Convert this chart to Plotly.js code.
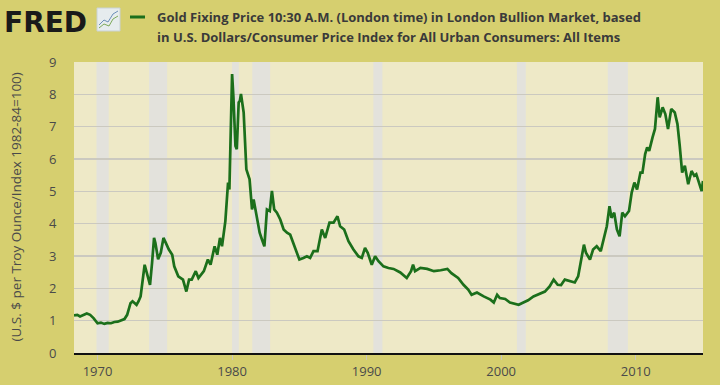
<!DOCTYPE html>
<html>
<head>
<meta charset="utf-8">
<script src="https://cdn.plot.ly/plotly-3.0.1.min.js"></script>
<style>html,body{margin:0;padding:0;background:#D6CF6F;}#chart{width:720px;height:385px;}</style>
</head>
<body>
<div id="chart"></div>
<script>
// Decimal year of each observation
var years = [
1968.25,1968.5,1968.7,1968.9,1969.2,1969.45,1969.7,1970.0,1970.25,1970.5,1970.75,1971.0,1971.25,1971.5,1971.75,
1972.0,1972.2,1972.45,1972.6,1972.9,1973.05,1973.2,1973.5,1973.7,1973.9,1974.05,1974.2,1974.3,1974.4,1974.5,1974.7,1974.9,
1975.05,1975.3,1975.55,1975.7,1976.0,1976.35,1976.6,1976.8,1977.0,1977.3,1977.5,1977.9,1978.2,1978.4,1978.7,1978.9,
1979.1,1979.25,1979.5,1979.7,1979.8,1980.0,1980.1,1980.25,1980.35,1980.49,1980.58,1980.66,1980.86,1981.06,1981.3,1981.48,
1981.6,1981.8,1982.05,1982.22,1982.4,1982.59,1982.8,1982.96,1983.13,1983.33,1983.58,1983.83,1984.08,1984.32,1984.7,
1985.0,1985.3,1985.56,1985.8,1986.05,1986.35,1986.67,1986.92,1987.24,1987.54,1987.83,1988.03,1988.33,1988.65,1989.02,
1989.39,1989.64,1989.88,1990.08,1990.38,1990.63,1990.88,1991.25,1991.62,1992.0,1992.5,1992.98,1993.3,1993.45,1993.6,
1994.0,1994.5,1995.0,1995.5,1996.0,1996.3,1996.8,1997.2,1997.55,1997.8,1998.2,1998.7,1999.2,1999.45,1999.7,1999.9,
2000.3,2000.65,2001.0,2001.3,2001.65,2002.0,2002.4,2002.9,2003.25,2003.6,2003.9,2004.2,2004.45,2004.73,2005.1,2005.47,
2005.72,2005.9,2006.15,2006.3,2006.6,2006.83,2007.1,2007.4,2007.6,2007.85,2008.05,2008.2,2008.4,2008.6,2008.8,2009.0,
2009.2,2009.5,2009.7,2009.9,2010.1,2010.35,2010.5,2010.7,2010.85,2011.0,2011.25,2011.43,2011.63,2011.78,2012.0,2012.2,
2012.4,2012.64,2012.9,2013.1,2013.27,2013.45,2013.65,2013.9,2014.15,2014.35,2014.5,2014.7,2014.9,2015.0
];
// Gold price / CPI
var ratio = [
1.16,1.18,1.13,1.17,1.22,1.18,1.08,0.92,0.94,0.90,0.93,0.92,0.96,0.97,1.00,
1.05,1.18,1.54,1.60,1.49,1.60,1.75,2.73,2.37,2.11,2.78,3.56,3.40,3.15,2.90,3.10,3.56,
3.43,3.20,3.04,2.68,2.37,2.27,1.90,2.27,2.27,2.53,2.32,2.53,2.89,2.73,3.30,3.04,
3.56,3.30,4.08,5.27,5.06,8.63,7.90,6.40,6.30,7.75,7.80,8.01,7.44,5.68,5.37,4.44,
4.75,4.34,3.72,3.51,3.30,4.44,4.39,5.01,4.44,4.34,4.13,3.82,3.72,3.66,3.20,
2.89,2.94,2.99,2.94,3.15,3.15,3.82,3.56,4.03,4.03,4.23,3.92,3.82,3.46,3.20,
2.99,2.94,3.25,3.10,2.73,2.99,2.84,2.68,2.63,2.60,2.49,2.32,2.53,2.73,2.53,
2.63,2.60,2.53,2.56,2.60,2.47,2.32,2.11,1.96,1.80,1.87,1.75,1.65,1.56,1.80,1.70,
1.67,1.56,1.52,1.49,1.56,1.63,1.75,1.85,1.90,2.06,2.27,2.11,2.10,2.27,2.22,2.18,
2.37,2.78,3.35,3.10,2.89,3.20,3.30,3.15,3.51,3.92,4.54,4.18,4.34,3.82,3.61,4.34,
4.23,4.39,4.96,5.27,5.06,5.58,5.58,6.15,6.36,6.25,6.67,6.93,7.91,7.29,7.60,7.39,
6.93,7.55,7.44,7.08,6.41,5.58,5.79,5.22,5.63,5.48,5.53,5.27,5.01,5.32
];
// Recession periods
var recessionStart = [1969.92, 1973.83, 1980.0, 1981.5, 1990.5, 2001.17, 2007.92];
var recessionEnd   = [1970.83, 1975.17, 1980.5, 1982.83, 1991.17, 2001.83, 2009.42];
var tickYears = [1970, 1980, 1990, 2000, 2010];
var tickLabels = ['1970', '1980', '1990', '2000', '2010'];
var seriesTitle1 = 'Gold Fixing Price 10:30 A.M. (London time) in London Bullion Market, based';
var seriesTitle2 = 'in U.S. Dollars/Consumer Price Index for All Urban Consumers: All Items';
var yTitle = '(U.S. $ per Troy Ounce/Index 1982-84=100)';

var W = 720, H = 385, mL = 74, mR = 17, mT = 62, mB = 32;
var pw = W - mL - mR, ph = H - mT - mB;
function px(x) { return (x - mL) / pw; }
function py(y) { return (H - mB - y) / ph; }

var shapes = [];
for (var i = 0; i < recessionStart.length; i++) {
  shapes.push({type: 'rect', xref: 'x', yref: 'paper', x0: recessionStart[i], x1: recessionEnd[i], y0: 0, y1: 1,
    fillcolor: '#E3E2DC', line: {width: 0}, layer: 'below'});
}
// legend swatch
shapes.push({type: 'line', xref: 'paper', yref: 'paper', x0: px(130), x1: px(145), y0: py(17), y1: py(17),
  line: {color: '#1B6F1B', width: 3}});
// FRED icon
shapes.push({type: 'rect', xref: 'paper', yref: 'paper', x0: px(97), x1: px(120), y0: py(31), y1: py(8),
  fillcolor: '#E6ECEE', line: {color: '#C9D2D6', width: 1}});
shapes.push({type: 'path', xref: 'paper', yref: 'paper',
  path: 'M' + px(99) + ',' + py(25) + ' L' + px(104) + ',' + py(20) + ' L' + px(108) + ',' + py(22) + ' L' + px(113) + ',' + py(14) + ' L' + px(118) + ',' + py(11),
  line: {color: '#6C8FB8', width: 1}});
shapes.push({type: 'path', xref: 'paper', yref: 'paper',
  path: 'M' + px(99) + ',' + py(28) + ' L' + px(104) + ',' + py(24) + ' L' + px(109) + ',' + py(26) + ' L' + px(113) + ',' + py(19) + ' L' + px(118) + ',' + py(16),
  line: {color: '#7DAA5A', width: 1}});

var trace = {
  x: years, y: ratio, type: 'scatter', mode: 'lines',
  line: {color: '#1B6F1B', width: 2.7}, hoverinfo: 'x+y'
};

var layout = {
  width: W, height: H,
  margin: {l: mL, r: mR, t: mT, b: mB, pad: 0},
  paper_bgcolor: '#D6CF6F', plot_bgcolor: '#EEE9C7',
  showlegend: false,
  font: {family: 'Open Sans, Liberation Sans, sans-serif', color: '#4a4a4a'},
  xaxis: {
    type: 'linear', range: [1968.25, 2015.0],
    tickvals: tickYears, ticktext: tickLabels,
    ticks: 'outside', ticklen: 5, tickcolor: '#C9C7BD', tickwidth: 1,
    showgrid: false, zeroline: false,
    showline: true, linecolor: '#111', linewidth: 2,
    tickfont: {size: 13, color: '#4a4a4a'}
  },
  yaxis: {
    range: [0, 9], dtick: 1, tick0: 0,
    ticks: 'outside', ticklen: 14, tickcolor: 'rgba(0,0,0,0)',
    showgrid: true, gridcolor: '#CBC9C0', gridwidth: 1.2,
    zeroline: false, showline: false,
    tickfont: {size: 13, color: '#4a4a4a'}
  },
  shapes: shapes,
  annotations: [
    {xref: 'paper', yref: 'paper', x: px(2), y: py(4), xanchor: 'left', yanchor: 'top', showarrow: false,
      text: '<b>FRED</b>', font: {family: 'DejaVu Sans, sans-serif', size: 28, color: '#1a1a1a'}},
    {xref: 'paper', yref: 'paper', x: px(155), y: py(17), xanchor: 'left', yanchor: 'middle', showarrow: false,
      text: '<b>' + seriesTitle1 + '</b>', font: {size: 13, color: '#3a3a3a'}},
    {xref: 'paper', yref: 'paper', x: px(155), y: py(37), xanchor: 'left', yanchor: 'middle', showarrow: false,
      text: '<b>' + seriesTitle2 + '</b>', font: {size: 13, color: '#3a3a3a'}},
    {xref: 'paper', yref: 'paper', x: px(15), y: 0.5, xanchor: 'center', yanchor: 'middle', showarrow: false,
      textangle: -90, text: yTitle, font: {size: 13.5, color: '#4a4a4a'}}
  ]
};

Plotly.newPlot('chart', [trace], layout, {displayModeBar: false, staticPlot: true});
</script>
</body>
</html>
